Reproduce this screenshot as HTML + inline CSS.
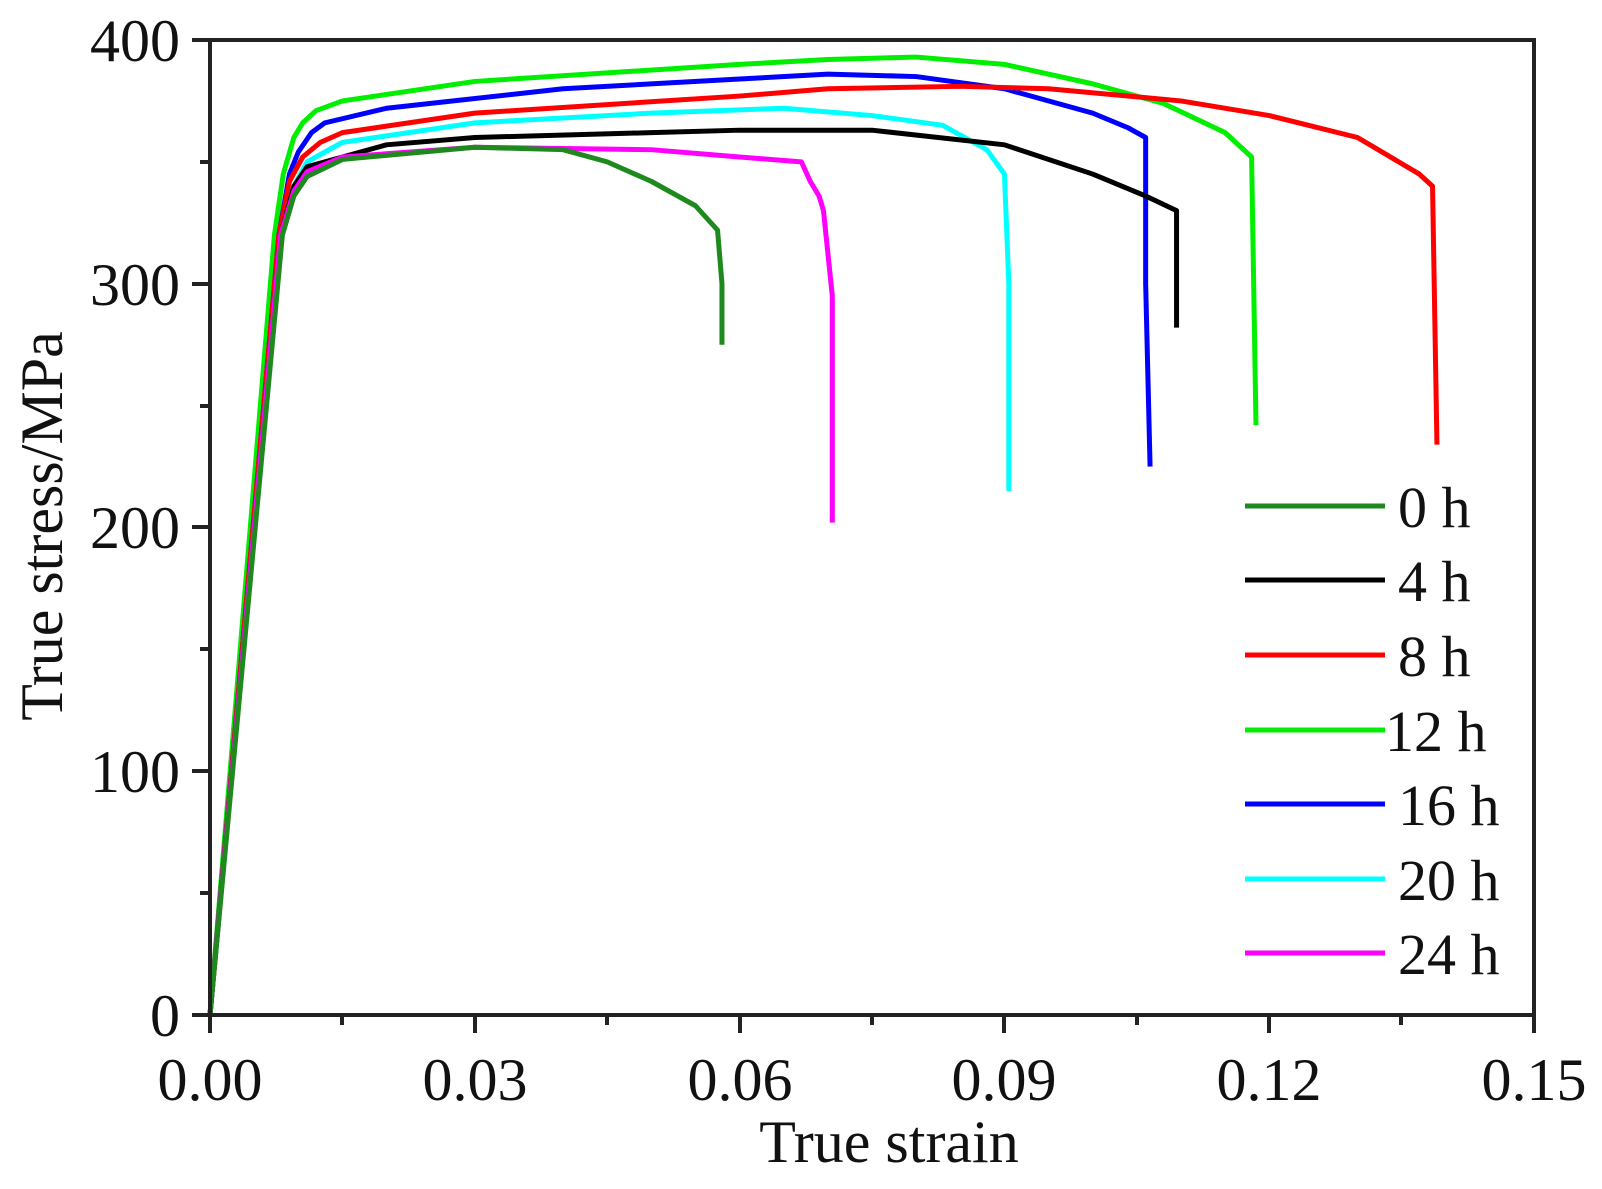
<!DOCTYPE html>
<html><head><meta charset="utf-8"><style>
html,body{margin:0;padding:0;background:#fff;}
svg{display:block;}
text{font-family:"Liberation Serif",serif;fill:#111;}
</style></head><body>
<svg width="1602" height="1189" viewBox="0 0 1602 1189" xmlns="http://www.w3.org/2000/svg">
<rect width="1602" height="1189" fill="#fff"/>
<g transform="translate(210,1015) scale(8.827,-2.4375)" fill="none" stroke-width="5" stroke-linejoin="round">
<polyline vector-effect="non-scaling-stroke" stroke="#00ee00" points="0,0 7.3,320 8.3,345 9.5,360 10.5,366 12,371 15,375 30,383 60,390 70,392 80,393 90,390 100,382 108,374 115,362 118,352 118.5,242"/>
<polyline vector-effect="non-scaling-stroke" stroke="#0000ff" points="0,0 7.8,320 9,345 10,354 11.5,362 13,366 20,372 40,380 60,384 70,386 80,385 90,380 100,370 104,364 106,360 106,300 106.5,225"/>
<polyline vector-effect="non-scaling-stroke" stroke="#ff0000" points="0,0 7.8,320 9,342 10.5,352 12.5,358 15,362 30,370 60,377 70,380 85,381 95,380 110,375 120,369 130,360 137,345 138.5,340 139,234"/>
<polyline vector-effect="non-scaling-stroke" stroke="#00ffff" points="0,0 8,320 9.5,340 11,350 15,358 30,366 50,370 65,372 75,369 83,365 88,355 90,345 90.5,300 90.5,215"/>
<polyline vector-effect="non-scaling-stroke" stroke="#000" points="0,0 8,320 9.5,340 11,348 20,357 30,360 50,362 60,363 75,363 90,357 100,345 106,336 109.5,330 109.5,282"/>
<polyline vector-effect="non-scaling-stroke" stroke="#ff00ff" points="0,0 8,320 9.5,338 11,346 15,352 30,356 50,355 60,352 67,350 68,342 69,336 69.5,330 70.5,295 70.5,202"/>
<polyline vector-effect="non-scaling-stroke" stroke="#1e8a1e" points="0,0 8.2,320 9.5,336 11,344 15,351 30,356 40,355 45,350 50,342 55,332 57.5,322 58,300 58,275"/>
</g>
<g stroke="#222" stroke-width="4" fill="none">
<rect x="210" y="40" width="1324" height="975"/>
<path d="M210,1015v18 M475,1015v18 M740,1015v18 M1004,1015v18 M1269,1015v18 M1534,1015v18
M342,1015v10 M607,1015v10 M872,1015v10 M1137,1015v10 M1401,1015v10"/>
<path d="M192,1015h18 M192,771h18 M192,527h18 M192,284h18 M192,40h18
M200,893h10 M200,649h10 M200,406h10 M200,162h10"/>
</g>
<g font-size="60" text-anchor="end">
<text x="180" y="1036">0</text>
<text x="180" y="792">100</text>
<text x="180" y="548">200</text>
<text x="180" y="305">300</text>
<text x="180" y="61">400</text>
</g>
<g font-size="60" text-anchor="middle">
<text x="210" y="1100">0.00</text>
<text x="475" y="1100">0.03</text>
<text x="740" y="1100">0.06</text>
<text x="1004" y="1100">0.09</text>
<text x="1269" y="1100">0.12</text>
<text x="1534" y="1100">0.15</text>
<text x="889" y="1162">True strain</text>
<text transform="translate(62,526) rotate(-90)">True stress/MPa</text>
</g>
<g stroke-width="5">
<line x1="1245" y1="506" x2="1385" y2="506" stroke="#1e8a1e"/>
<line x1="1245" y1="580" x2="1385" y2="580" stroke="#000"/>
<line x1="1245" y1="655" x2="1385" y2="655" stroke="#ff0000"/>
<line x1="1245" y1="730" x2="1385" y2="730" stroke="#00ee00"/>
<line x1="1245" y1="804" x2="1385" y2="804" stroke="#0000ff"/>
<line x1="1245" y1="879" x2="1385" y2="879" stroke="#00ffff"/>
<line x1="1245" y1="953" x2="1385" y2="953" stroke="#ff00ff"/>
</g>
<g font-size="58">
<text x="1398" y="527">0 h</text>
<text x="1398" y="601">4 h</text>
<text x="1398" y="676">8 h</text>
<text x="1385" y="751">12 h</text>
<text x="1398" y="825">16 h</text>
<text x="1398" y="900">20 h</text>
<text x="1398" y="974">24 h</text>
</g>
</svg>
</body></html>
